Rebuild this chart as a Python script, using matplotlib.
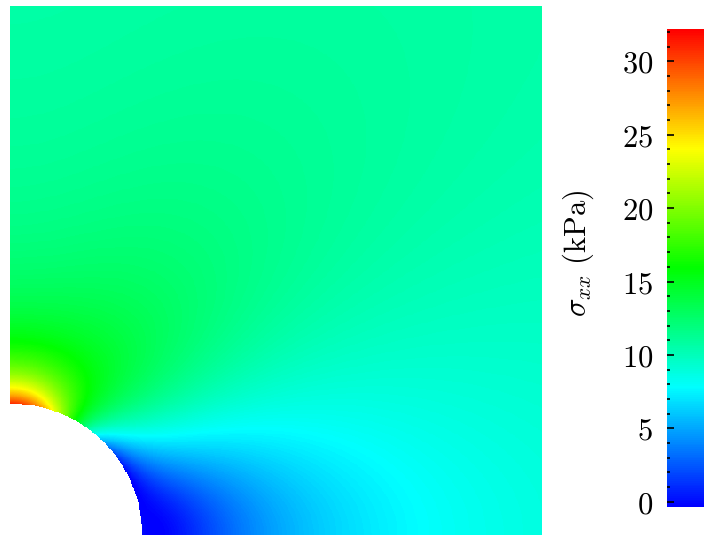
import numpy as np
import matplotlib.pyplot as plt
from matplotlib.colors import LinearSegmentedColormap, Normalize
from matplotlib.ticker import MultipleLocator, FuncFormatter

plt.rcParams['mathtext.fontset'] = 'cm'

# plate quarter model: hole of radius a at the origin, remote tension along x
plate_size = 1.0        # side of the square quarter plate
hole_radius = 0.248     # a
sigma_far = 10.3        # remote stress (kPa)
sigma_lims = [-0.36, 32.2]   # colour scale limits (kPa)
major_ticks = [0, 5, 10, 15, 20, 25, 30]

# colour scale: blue -> cyan -> green -> yellow -> red
stress_colors = ['#0000ff', '#00ffff', '#00ff00', '#ffff00', '#ff0000']

n = 600
x = np.linspace(0, plate_size, n)
y = np.linspace(0, plate_size, n)
X, Y = np.meshgrid(x, y)
r = np.hypot(X, Y)
th = np.arctan2(Y, X)

# Kirsch solution, sigma_xx
a2 = (hole_radius / r) ** 2
sxx = sigma_far * (1 - a2 * (1.5 * np.cos(2 * th) + np.cos(4 * th))
                   + 1.5 * a2 ** 2 * np.cos(4 * th))
sxx = np.ma.masked_where(r < hole_radius, sxx)

cmap = LinearSegmentedColormap.from_list('stress', stress_colors)
cmap.set_bad('white')
norm = Normalize(vmin=sigma_lims[0], vmax=sigma_lims[1])

fig = plt.figure(figsize=(7.04, 5.35), dpi=100)
ax = fig.add_axes([10 / 704, 0, 532 / 704, 529 / 535])
im = ax.imshow(sxx, origin='lower', extent=[0, plate_size, 0, plate_size],
               cmap=cmap, norm=norm, interpolation='nearest', aspect='auto')
ax.axis('off')

cax = fig.add_axes([667 / 704, 28 / 535, 37 / 704, 478 / 535])
cbar = fig.colorbar(im, cax=cax)
cbar.outline.set_visible(False)
cbar.set_ticks(major_ticks)
cax.yaxis.set_ticks_position('left')
cax.yaxis.set_label_position('left')
cax.yaxis.set_minor_locator(MultipleLocator(1))
cax.yaxis.set_major_formatter(FuncFormatter(lambda v, p: r'$%d$' % v))
cax.tick_params(which='major', direction='in', length=5, width=1.2,
                labelsize=22, pad=10)
cax.tick_params(which='minor', direction='in', length=2.5, width=1.2)
cax.set_ylabel(r'$\sigma_{xx}\ (\mathrm{kPa})$', fontsize=22)
cax.yaxis.set_label_coords(-2.4, 0.53)
cax.yaxis.label.set_va('center')

fig.savefig('out.png', dpi=100)
